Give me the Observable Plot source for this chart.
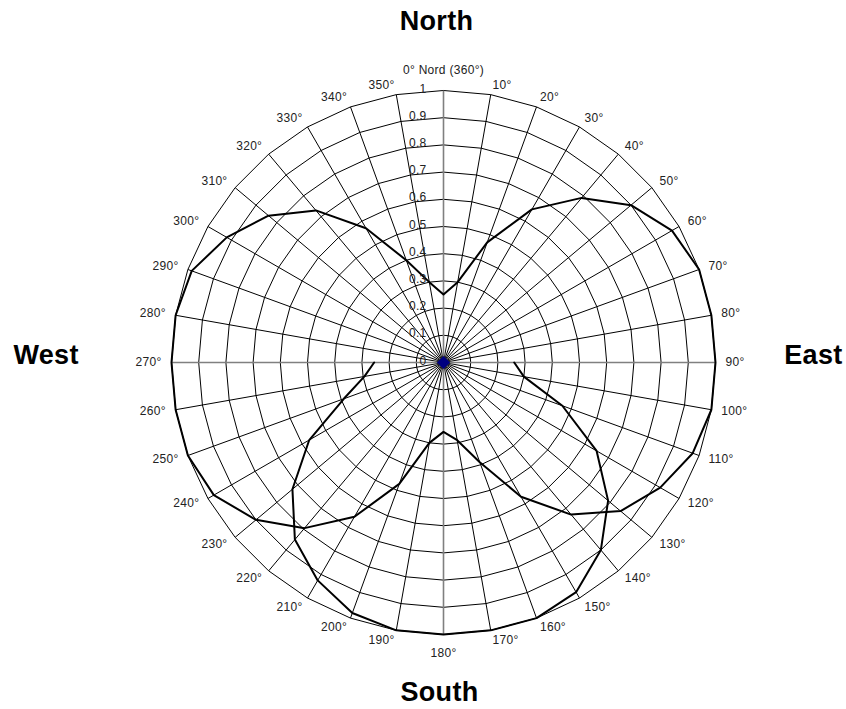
<!DOCTYPE html>
<html>
<head>
<meta charset="utf-8">
<script src="https://cdn.jsdelivr.net/npm/d3@7"></script>
<script src="https://cdn.jsdelivr.net/npm/@observablehq/plot@0.6"></script>
<style>
  html, body { margin: 0; padding: 0; background: #fff; }
  #chart svg { display: block; }
</style>
</head>
<body>
<div id="chart"></div>
<script>
// ---- data ----
const anglesA = [0,10,20,30,40,50,60,70,80,90,100,110,120,130,140,150,160,170,
                 180,190,200,210,220,230,240,250,260,270,280,290,300,310,320,330,340,350];
const valuesA = [0.25,0.30,0.47,0.65,0.79,0.90,0.97,1.00,1.00,1.00,1.00,0.975,0.92,0.85,0.73,0.57,0.39,0.29,
                 0.255,0.30,0.475,0.655,0.795,0.90,0.975,1.00,1.00,1.00,1.00,0.985,0.92,0.84,0.73,0.57,0.40,0.30];
const anglesB = [90,100,110,120,130,140,150,160,170,180,190,200,210,220,230,240,250,260,270];
const valuesB = [0.26,0.30,0.465,0.65,0.79,0.90,0.975,1.00,1.00,1.00,1.00,0.98,0.925,0.85,0.725,0.57,0.39,0.295,0.255];

const ringTicks = [0,0.1,0.2,0.3,0.4,0.5,0.6,0.7,0.8,0.9,1];
const ringLabels = ["0","0.1","0.2","0.3","0.4","0.5","0.6","0.7","0.8","0.9","1"];
const spokeAngles = anglesA;
const angleLabels = ["0° Nord (360°)","10°","20°","30°","40°","50°","60°","70°","80°","90°","100°","110°","120°","130°","140°","150°","160°","170°",
                     "180°","190°","200°","210°","220°","230°","240°","250°","260°","270°","280°","290°","300°","310°","320°","330°","340°","350°"];
const titles = ["North","South","West","East"];

// ---- helpers ----
const rad = d => d * Math.PI / 180;
const px = (a, r) => r * Math.sin(rad(a));
const py = (a, r) => r * Math.cos(rad(a));

const rings = [];
ringTicks.filter(t => t > 0).forEach(t => {
  spokeAngles.concat([360]).forEach(a => rings.push({ring: t, x: px(a, t), y: py(a, t)}));
});
const spokes = spokeAngles.map(a => ({a, x2: px(a, 1), y2: py(a, 1), axis: a % 90 === 0}));

const lineA = anglesA.concat([360]).map((a, i) => {
  const v = valuesA[i % valuesA.length];
  return {x: px(a, v), y: py(a, v)};
});
const lineB = anglesB.map((a, i) => ({x: px(a, valuesB[i]), y: py(a, valuesB[i])}));

const LR = 282 / 272;
const labs = spokeAngles.map((a, i) => ({a, label: angleLabels[i], x: px(a, LR), y: py(a, LR)}));

const font = "Liberation Sans, Arial, sans-serif";
const fs = 12;

const chart = Plot.plot({
  width: 846,
  height: 709,
  margin: 0,
  style: {fontFamily: font, background: "#fff", letterSpacing: "0.3px"},
  x: {domain: [-1, 1], range: [171, 715], axis: null},
  y: {domain: [-1, 1], range: [634, 90], axis: null},
  marks: [
    Plot.line(rings, {x: "x", y: "y", z: "ring", stroke: "#000", strokeWidth: 1}),
    Plot.link(spokes.filter(d => !d.axis), {x1: 0, y1: 0, x2: "x2", y2: "y2", stroke: "#000", strokeWidth: 1}),
    Plot.link(spokes.filter(d => d.axis), {x1: 0, y1: 0, x2: "x2", y2: "y2", stroke: "#808080", strokeWidth: 1.6}),
    Plot.line(lineA, {x: "x", y: "y", stroke: "#000", strokeWidth: 2, strokeLinejoin: "miter"}),
    Plot.line(lineB, {x: "x", y: "y", stroke: "#000", strokeWidth: 2, strokeLinejoin: "miter"}),
    Plot.dot([{x: 0, y: 0}], {x: "x", y: "y", symbol: "diamond2", r: 5, fill: "#000080", stroke: "#000080"}),
    Plot.text(ringTicks.map((t, i) => ({t, label: ringLabels[i]})),
      {x: 0, y: "t", text: "label", textAnchor: "end", lineAnchor: "bottom", dx: -17, dy: 2, fontSize: fs, fill: "#222"}),
    Plot.text(labs.filter(d => d.a > 0 && d.a < 180),
      {x: "x", y: "y", text: "label", textAnchor: "start", lineAnchor: "middle", fontSize: fs, fill: "#222"}),
    Plot.text(labs.filter(d => d.a > 180),
      {x: "x", y: "y", text: "label", textAnchor: "end", lineAnchor: "middle", fontSize: fs, fill: "#222"}),
    Plot.text(labs.filter(d => d.a === 0),
      {x: "x", y: "y", text: "label", textAnchor: "middle", lineAnchor: "bottom", dy: -7, fontSize: fs, fill: "#222"}),
    Plot.text(labs.filter(d => d.a === 180),
      {x: "x", y: "y", text: "label", textAnchor: "middle", lineAnchor: "top", dy: 4, fontSize: fs, fill: "#222"}),
    Plot.text([titles[0]], {frameAnchor: "top", text: d => d, dx: 13, dy: 10, fontSize: 27, fontWeight: "bold", lineAnchor: "top", fill: "#000"}),
    Plot.text([titles[1]], {frameAnchor: "bottom", text: d => d, dx: 16, dy: -9, fontSize: 27, fontWeight: "bold", lineAnchor: "bottom", fill: "#000"}),
    Plot.text([titles[2]], {frameAnchor: "left", text: d => d, dx: 13, dy: 0, fontSize: 27, fontWeight: "bold", textAnchor: "start", fill: "#000"}),
    Plot.text([titles[3]], {frameAnchor: "right", text: d => d, dx: -4, dy: 0, fontSize: 27, fontWeight: "bold", textAnchor: "end", fill: "#000"})
  ]
});
document.getElementById("chart").appendChild(chart);
</script>
</body>
</html>
